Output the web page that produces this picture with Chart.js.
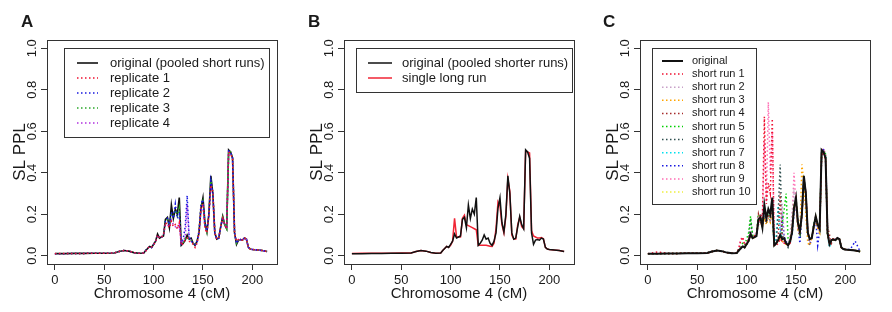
<!doctype html>
<html lang="en">
  <head>
    <meta charset="UTF-8" />
    <script src="https://cdn.jsdelivr.net/npm/chart.js@4.4.0/dist/chart.umd.min.js"></script>
    <style>
      body { margin: 0; background: #fff; }
      .panel { position: absolute; top: 0; width: 297px; height: 312px; }
    </style>
  </head>
  <body>
    <div class="panel" style="left:0"><canvas id="chartA" width="297" height="312"></canvas></div>
    <div class="panel" style="left:297px"><canvas id="chartB" width="297" height="312"></canvas></div>
    <div class="panel" style="left:593px"><canvas id="chartC" width="297" height="312"></canvas></div>

    <script>
      // positions along chromosome 4 (cM)
      const positions = [0, 10, 20, 30, 40, 50, 60, 65, 70, 75, 80, 85, 90,
        92, 94, 96, 98, 100, 102, 104, 106, 108, 110,
        112, 114, 116, 118, 120, 122, 124, 126, 128, 130,
        132, 134, 136, 138, 140, 142, 144, 146, 148, 150,
        152, 154, 156, 158, 160, 162, 164, 166, 168, 170,
        172, 174, 176, 178, 180, 182, 184, 186, 188, 190,
        192, 194, 196, 198, 200, 205, 210, 215];

      const xTickValues = [0, 50, 100, 150, 200];
      const yTickValues = [0, 0.2, 0.4, 0.6, 0.8, 1.0];

      const original = [0.010, 0.010, 0.011, 0.011, 0.012, 0.012, 0.013, 0.020, 0.025, 0.022, 0.015, 0.012, 0.013,
        0.025, 0.035, 0.045, 0.040, 0.055, 0.070, 0.105, 0.085, 0.090, 0.095,
        0.175, 0.185, 0.135, 0.245, 0.180, 0.225, 0.200, 0.280, 0.050, 0.060,
        0.075, 0.100, 0.080, 0.085, 0.060, 0.050, 0.070, 0.110, 0.230, 0.280,
        0.160, 0.115, 0.200, 0.385, 0.300, 0.110, 0.080, 0.085, 0.140, 0.190,
        0.150, 0.130, 0.510, 0.500, 0.470, 0.110, 0.055, 0.075, 0.078, 0.075,
        0.085, 0.080, 0.040, 0.032, 0.030, 0.028, 0.025, 0.020];

      // panel A
      const replicate1 = [0.010, 0.011, 0.011, 0.011, 0.012, 0.012, 0.013, 0.020, 0.025, 0.022, 0.015, 0.012, 0.013,
        0.022, 0.035, 0.045, 0.042, 0.055, 0.065, 0.100, 0.085, 0.090, 0.100,
        0.160, 0.150, 0.135, 0.165, 0.140, 0.150, 0.130, 0.160, 0.050, 0.060,
        0.075, 0.085, 0.070, 0.065, 0.055, 0.040, 0.060, 0.110, 0.230, 0.250,
        0.130, 0.110, 0.200, 0.340, 0.310, 0.110, 0.080, 0.085, 0.140, 0.180,
        0.150, 0.130, 0.500, 0.490, 0.470, 0.110, 0.070, 0.078, 0.078, 0.075,
        0.085, 0.080, 0.040, 0.032, 0.030, 0.028, 0.025, 0.020];
      const replicate2 = [0.010, 0.010, 0.011, 0.011, 0.012, 0.012, 0.013, 0.020, 0.025, 0.022, 0.015, 0.012, 0.013,
        0.025, 0.035, 0.045, 0.040, 0.055, 0.070, 0.100, 0.085, 0.090, 0.100,
        0.170, 0.180, 0.150, 0.210, 0.180, 0.250, 0.180, 0.200, 0.060, 0.080,
        0.140, 0.290, 0.090, 0.070, 0.060, 0.055, 0.065, 0.120, 0.250, 0.270,
        0.150, 0.120, 0.200, 0.360, 0.300, 0.105, 0.080, 0.085, 0.140, 0.185,
        0.150, 0.130, 0.505, 0.500, 0.470, 0.110, 0.060, 0.075, 0.078, 0.075,
        0.085, 0.080, 0.040, 0.032, 0.030, 0.028, 0.025, 0.020];
      const replicate3 = [0.010, 0.010, 0.011, 0.011, 0.012, 0.012, 0.013, 0.020, 0.025, 0.022, 0.015, 0.012, 0.013,
        0.025, 0.035, 0.045, 0.040, 0.055, 0.070, 0.100, 0.085, 0.090, 0.100,
        0.175, 0.175, 0.150, 0.200, 0.190, 0.220, 0.190, 0.230, 0.055, 0.065,
        0.080, 0.090, 0.080, 0.075, 0.060, 0.050, 0.065, 0.120, 0.240, 0.265,
        0.150, 0.115, 0.200, 0.370, 0.300, 0.110, 0.080, 0.085, 0.140, 0.185,
        0.150, 0.130, 0.505, 0.500, 0.470, 0.110, 0.060, 0.075, 0.078, 0.075,
        0.085, 0.080, 0.040, 0.032, 0.030, 0.028, 0.025, 0.020];
      const replicate4 = [0.010, 0.010, 0.011, 0.011, 0.012, 0.012, 0.013, 0.020, 0.025, 0.022, 0.015, 0.012, 0.013,
        0.025, 0.035, 0.045, 0.040, 0.055, 0.070, 0.100, 0.085, 0.090, 0.100,
        0.150, 0.150, 0.140, 0.170, 0.150, 0.140, 0.130, 0.150, 0.060, 0.070,
        0.090, 0.250, 0.080, 0.075, 0.060, 0.050, 0.060, 0.110, 0.220, 0.240,
        0.140, 0.110, 0.190, 0.330, 0.300, 0.110, 0.080, 0.085, 0.140, 0.180,
        0.150, 0.130, 0.500, 0.495, 0.470, 0.110, 0.065, 0.075, 0.078, 0.075,
        0.085, 0.080, 0.040, 0.032, 0.030, 0.028, 0.025, 0.020];

      // panel B
      const longRun = [0.011, 0.012, 0.012, 0.012, 0.012, 0.013, 0.013, 0.020, 0.025, 0.022, 0.015, 0.012, 0.013,
        0.025, 0.035, 0.045, 0.040, 0.050, 0.070, 0.180, 0.090, 0.090, 0.090,
        0.180, 0.195, 0.150, 0.145, 0.140, 0.135, 0.130, 0.125, 0.050, 0.050,
        0.050, 0.050, 0.050, 0.048, 0.046, 0.045, 0.060, 0.130, 0.260, 0.240,
        0.150, 0.110, 0.190, 0.370, 0.310, 0.100, 0.080, 0.080, 0.150, 0.185,
        0.140, 0.130, 0.505, 0.500, 0.495, 0.120, 0.095, 0.090, 0.085, 0.085,
        0.088, 0.082, 0.040, 0.032, 0.030, 0.027, 0.025, 0.020];

      // panel C
      const shortRun1 = [0.010, 0.018, 0.011, 0.011, 0.012, 0.012, 0.013, 0.020, 0.025, 0.022, 0.015, 0.012, 0.013,
        0.030, 0.070, 0.090, 0.050, 0.060, 0.080, 0.100, 0.090, 0.095, 0.110,
        0.150, 0.200, 0.180, 0.670, 0.250, 0.350, 0.300, 0.660, 0.050, 0.050,
        0.060, 0.080, 0.070, 0.060, 0.060, 0.050, 0.060, 0.120, 0.220, 0.270,
        0.140, 0.110, 0.190, 0.360, 0.300, 0.110, 0.080, 0.085, 0.140, 0.180,
        0.150, 0.120, 0.480, 0.500, 0.460, 0.110, 0.060, 0.080, 0.080, 0.078,
        0.085, 0.080, 0.040, 0.032, 0.030, 0.028, 0.025, 0.020];
      const shortRun2 = [0.010, 0.010, 0.011, 0.011, 0.012, 0.012, 0.013, 0.020, 0.025, 0.022, 0.015, 0.012, 0.013,
        0.025, 0.040, 0.050, 0.045, 0.060, 0.080, 0.110, 0.090, 0.100, 0.110,
        0.180, 0.150, 0.150, 0.200, 0.170, 0.190, 0.160, 0.220, 0.050, 0.060,
        0.080, 0.090, 0.250, 0.100, 0.060, 0.050, 0.100, 0.200, 0.300, 0.230,
        0.150, 0.120, 0.220, 0.350, 0.320, 0.120, 0.070, 0.080, 0.150, 0.170,
        0.140, 0.120, 0.500, 0.510, 0.480, 0.100, 0.060, 0.080, 0.080, 0.080,
        0.085, 0.080, 0.040, 0.032, 0.030, 0.028, 0.025, 0.022];
      const shortRun3 = [0.010, 0.010, 0.011, 0.011, 0.012, 0.012, 0.013, 0.020, 0.025, 0.022, 0.015, 0.012, 0.013,
        0.025, 0.035, 0.045, 0.040, 0.055, 0.070, 0.100, 0.080, 0.090, 0.100,
        0.170, 0.160, 0.140, 0.180, 0.150, 0.180, 0.160, 0.200, 0.050, 0.060,
        0.070, 0.080, 0.070, 0.060, 0.055, 0.050, 0.070, 0.150, 0.250, 0.260,
        0.120, 0.100, 0.440, 0.350, 0.200, 0.060, 0.050, 0.085, 0.140, 0.170,
        0.130, 0.110, 0.490, 0.500, 0.470, 0.100, 0.060, 0.075, 0.078, 0.075,
        0.085, 0.080, 0.040, 0.032, 0.030, 0.028, 0.025, 0.020];
      const shortRun4 = [0.010, 0.010, 0.011, 0.011, 0.012, 0.012, 0.013, 0.020, 0.025, 0.022, 0.015, 0.012, 0.013,
        0.025, 0.035, 0.045, 0.040, 0.055, 0.070, 0.100, 0.085, 0.090, 0.100,
        0.200, 0.160, 0.140, 0.190, 0.160, 0.200, 0.170, 0.230, 0.050, 0.060,
        0.080, 0.300, 0.090, 0.070, 0.060, 0.050, 0.065, 0.120, 0.230, 0.270,
        0.150, 0.110, 0.200, 0.370, 0.300, 0.110, 0.080, 0.085, 0.140, 0.190,
        0.140, 0.130, 0.500, 0.510, 0.490, 0.140, 0.100, 0.060, 0.080, 0.075,
        0.085, 0.080, 0.040, 0.032, 0.030, 0.028, 0.025, 0.020];
      const shortRun5 = [0.010, 0.010, 0.011, 0.011, 0.012, 0.012, 0.013, 0.020, 0.025, 0.022, 0.015, 0.012, 0.013,
        0.030, 0.050, 0.060, 0.050, 0.080, 0.110, 0.190, 0.100, 0.090, 0.100,
        0.200, 0.180, 0.150, 0.190, 0.170, 0.200, 0.180, 0.210, 0.050, 0.060,
        0.080, 0.090, 0.150, 0.220, 0.300, 0.080, 0.060, 0.120, 0.250, 0.260,
        0.150, 0.110, 0.200, 0.360, 0.300, 0.100, 0.080, 0.085, 0.150, 0.180,
        0.150, 0.130, 0.510, 0.500, 0.490, 0.100, 0.060, 0.080, 0.080, 0.075,
        0.085, 0.080, 0.040, 0.032, 0.030, 0.028, 0.025, 0.020];
      const shortRun6 = [0.010, 0.010, 0.011, 0.011, 0.012, 0.012, 0.013, 0.020, 0.025, 0.022, 0.015, 0.012, 0.013,
        0.025, 0.035, 0.045, 0.040, 0.060, 0.080, 0.180, 0.090, 0.090, 0.100,
        0.190, 0.200, 0.160, 0.200, 0.180, 0.210, 0.190, 0.240, 0.050, 0.060,
        0.200, 0.440, 0.100, 0.080, 0.060, 0.040, 0.065, 0.120, 0.230, 0.280,
        0.160, 0.120, 0.200, 0.380, 0.300, 0.110, 0.080, 0.085, 0.140, 0.190,
        0.150, 0.120, 0.500, 0.500, 0.470, 0.110, 0.050, 0.075, 0.078, 0.075,
        0.085, 0.080, 0.040, 0.032, 0.030, 0.028, 0.025, 0.020];
      const shortRun7 = [0.010, 0.010, 0.011, 0.011, 0.012, 0.012, 0.013, 0.020, 0.025, 0.022, 0.015, 0.012, 0.013,
        0.025, 0.035, 0.045, 0.040, 0.055, 0.070, 0.100, 0.085, 0.090, 0.100,
        0.160, 0.170, 0.140, 0.200, 0.160, 0.190, 0.170, 0.210, 0.050, 0.100,
        0.240, 0.120, 0.080, 0.070, 0.060, 0.050, 0.065, 0.120, 0.220, 0.260,
        0.150, 0.110, 0.210, 0.370, 0.290, 0.100, 0.080, 0.085, 0.140, 0.180,
        0.140, 0.120, 0.490, 0.500, 0.480, 0.100, 0.040, 0.075, 0.078, 0.075,
        0.085, 0.080, 0.040, 0.032, 0.030, 0.028, 0.025, 0.020];
      const shortRun8 = [0.010, 0.010, 0.011, 0.011, 0.012, 0.012, 0.013, 0.020, 0.025, 0.022, 0.015, 0.012, 0.013,
        0.025, 0.035, 0.045, 0.040, 0.055, 0.070, 0.100, 0.085, 0.090, 0.100,
        0.170, 0.180, 0.150, 0.210, 0.170, 0.200, 0.180, 0.220, 0.050, 0.060,
        0.080, 0.090, 0.180, 0.100, 0.070, 0.050, 0.060, 0.100, 0.200, 0.250,
        0.140, 0.060, 0.200, 0.380, 0.300, 0.110, 0.050, 0.085, 0.150, 0.180,
        0.050, 0.120, 0.500, 0.510, 0.480, 0.110, 0.060, 0.080, 0.080, 0.078,
        0.085, 0.080, 0.040, 0.032, 0.030, 0.030, 0.070, 0.020];
      const shortRun9 = [0.010, 0.010, 0.011, 0.011, 0.012, 0.012, 0.013, 0.020, 0.025, 0.022, 0.015, 0.012, 0.013,
        0.040, 0.080, 0.090, 0.060, 0.060, 0.080, 0.110, 0.090, 0.095, 0.110,
        0.170, 0.180, 0.160, 0.550, 0.260, 0.740, 0.400, 0.600, 0.050, 0.060,
        0.070, 0.080, 0.070, 0.060, 0.060, 0.050, 0.060, 0.150, 0.400, 0.250,
        0.140, 0.110, 0.200, 0.360, 0.300, 0.110, 0.080, 0.085, 0.140, 0.180,
        0.150, 0.130, 0.500, 0.520, 0.470, 0.110, 0.070, 0.080, 0.080, 0.078,
        0.085, 0.080, 0.040, 0.032, 0.030, 0.028, 0.025, 0.020];
      const shortRun10 = [0.010, 0.010, 0.011, 0.011, 0.012, 0.012, 0.013, 0.020, 0.025, 0.022, 0.015, 0.012, 0.013,
        0.025, 0.035, 0.045, 0.040, 0.055, 0.070, 0.100, 0.085, 0.090, 0.100,
        0.170, 0.180, 0.140, 0.200, 0.170, 0.210, 0.190, 0.250, 0.050, 0.060,
        0.070, 0.090, 0.080, 0.070, 0.060, 0.050, 0.065, 0.120, 0.230, 0.270,
        0.150, 0.110, 0.200, 0.370, 0.300, 0.110, 0.060, 0.085, 0.140, 0.190,
        0.150, 0.130, 0.500, 0.500, 0.470, 0.110, 0.060, 0.075, 0.078, 0.075,
        0.085, 0.080, 0.040, 0.032, 0.030, 0.028, 0.025, 0.020];

      const FONT = '"Liberation Sans", Arial, Helvetica, sans-serif';
      const TEXT = '#1a1a1a';

      function points(values) {
        return values.map((v, i) => ({ x: positions[i], y: v }));
      }

      // order: lower number is drawn on top
      function solid(label, values, color, width, order) {
        return { label, data: points(values), borderColor: color, borderWidth: width, order };
      }

      function dotted(label, values, color) {
        return { label, data: points(values), borderColor: color, borderWidth: 1.5,
                 borderDash: [1.5, 2.5], order: 1 };
      }

      // box round the plot, rotated y labels, panel letter
      const frame = {
        id: 'frame',
        afterDraw(chart, args, opts) {
          const { ctx, chartArea: a } = chart;
          const y = chart.scales.y;
          ctx.save();
          ctx.strokeStyle = '#333';
          ctx.lineWidth = 1;
          ctx.strokeRect(Math.round(a.left) + 0.5, Math.round(a.top) + 0.5,
                         Math.round(a.width), Math.round(a.height));
          ctx.fillStyle = TEXT;
          ctx.font = '13px ' + FONT;
          ctx.textAlign = 'center';
          ctx.textBaseline = 'middle';
          y.ticks.forEach(t => {
            ctx.save();
            ctx.translate(a.left - 15, y.getPixelForValue(t.value));
            ctx.rotate(-Math.PI / 2);
            ctx.fillText(t.value.toFixed(1), 0, 0);
            ctx.restore();
          });
          ctx.font = 'bold 17px ' + FONT;
          ctx.textAlign = 'left';
          ctx.textBaseline = 'alphabetic';
          ctx.fillText(opts.letter, opts.letterX, 27);
          ctx.restore();
        }
      };

      // legend box inside the plot, R style
      const boxLegend = {
        id: 'boxLegend',
        afterDatasetsDraw(chart, args, o) {
          const ctx = chart.ctx;
          const sets = chart.data.datasets;
          ctx.save();
          ctx.font = o.fontSize + 'px ' + FONT;
          const textW = Math.max(...sets.map(d => ctx.measureText(d.label).width));
          const w = Math.round(o.textX + textW + o.padRight);
          const h = Math.round(o.firstRow + (sets.length - 1) * o.rowGap + o.padBottom);
          ctx.fillStyle = '#fff';
          ctx.fillRect(o.x, o.y, w, h);
          ctx.strokeStyle = '#333';
          ctx.lineWidth = 1;
          ctx.strokeRect(o.x + 0.5, o.y + 0.5, w, h);
          sets.forEach((d, i) => {
            const cy = o.y + o.firstRow + i * o.rowGap;
            ctx.beginPath();
            ctx.setLineDash(d.borderDash || []);
            ctx.strokeStyle = d.borderColor;
            ctx.lineWidth = d.borderWidth;
            ctx.moveTo(o.x + o.sampleX, cy);
            ctx.lineTo(o.x + o.sampleX + o.sampleLen, cy);
            ctx.stroke();
            ctx.setLineDash([]);
            ctx.fillStyle = TEXT;
            ctx.textBaseline = 'middle';
            ctx.fillText(d.label, o.x + o.textX, cy);
          });
          ctx.restore();
        }
      };

      function makeChart(id, datasets, letter, letterX, legendOpts) {
        const grid = { drawOnChartArea: false, drawTicks: true, tickLength: 6, color: '#333' };
        return new Chart(document.getElementById(id), {
          type: 'line',
          data: { datasets },
          plugins: [frame, boxLegend],
          options: {
            responsive: false,
            animation: false,
            layout: { padding: { left: 0, top: 40, right: 20, bottom: 0 } },
            elements: { point: { radius: 0 }, line: { tension: 0 } },
            plugins: {
              legend: { display: false },
              tooltip: { enabled: false },
              frame: { letter, letterX },
              boxLegend: legendOpts
            },
            scales: {
              x: {
                type: 'linear', min: -8, max: 225,
                afterBuildTicks: s => { s.ticks = xTickValues.map(v => ({ value: v })); },
                afterFit: s => { s.height = 48; },
                grid, border: { display: false },
                ticks: { font: { size: 13, family: FONT }, color: TEXT, padding: 3, maxRotation: 0 },
                title: { display: true, text: 'Chromosome 4 (cM)', color: TEXT,
                         font: { size: 15, family: FONT }, padding: { top: 0, bottom: 9 } }
              },
              y: {
                min: -0.04, max: 1.04,
                afterBuildTicks: s => { s.ticks = yTickValues.map(v => ({ value: v })); },
                afterFit: s => { s.width = 47; },
                grid, border: { display: false },
                ticks: { display: false },
                title: { display: true, text: 'SL PPL', color: TEXT,
                         font: { size: 17, family: FONT }, padding: { top: 10, bottom: 0 } }
              }
            }
          }
        });
      }

      makeChart('chartA', [
        solid('original (pooled short runs)', original, '#111', 1.6, 2),
        dotted('replicate 1', replicate1, '#f01030'),
        dotted('replicate 2', replicate2, '#1818e0'),
        dotted('replicate 3', replicate3, '#2aa82a'),
        dotted('replicate 4', replicate4, '#b030e0')
      ], 'A', 21, { x: 64, y: 48, sampleX: 13, sampleLen: 21, textX: 46, padRight: 4,
                    firstRow: 15, rowGap: 15, padBottom: 14, fontSize: 13 });

      makeChart('chartB', [
        solid('original (pooled shorter runs)', original, '#111', 1.5, 0),
        solid('single long run', longRun, '#f02535', 1.5, 1)
      ], 'B', 11, { x: 59, y: 48, sampleX: 12, sampleLen: 24, textX: 46, padRight: 4,
                    firstRow: 15, rowGap: 15, padBottom: 14, fontSize: 13 });

      makeChart('chartC', [
        solid('original', original, '#111', 2, 0),
        dotted('short run 1', shortRun1, '#f01030'),
        dotted('short run 2', shortRun2, '#c8a0c8'),
        dotted('short run 3', shortRun3, '#ffa500'),
        dotted('short run 4', shortRun4, '#a52a2a'),
        dotted('short run 5', shortRun5, '#00d000'),
        dotted('short run 6', shortRun6, '#2f4f4f'),
        dotted('short run 7', shortRun7, '#00e0ee'),
        dotted('short run 8', shortRun8, '#1818e0'),
        dotted('short run 9', shortRun9, '#ff6eb4'),
        dotted('short run 10', shortRun10, '#eeee40')
      ], 'C', 10, { x: 59, y: 48, sampleX: 10, sampleLen: 21, textX: 40, padRight: 5,
                    firstRow: 13, rowGap: 13.1, padBottom: 12, fontSize: 11 });
    </script>
  </body>
</html>
